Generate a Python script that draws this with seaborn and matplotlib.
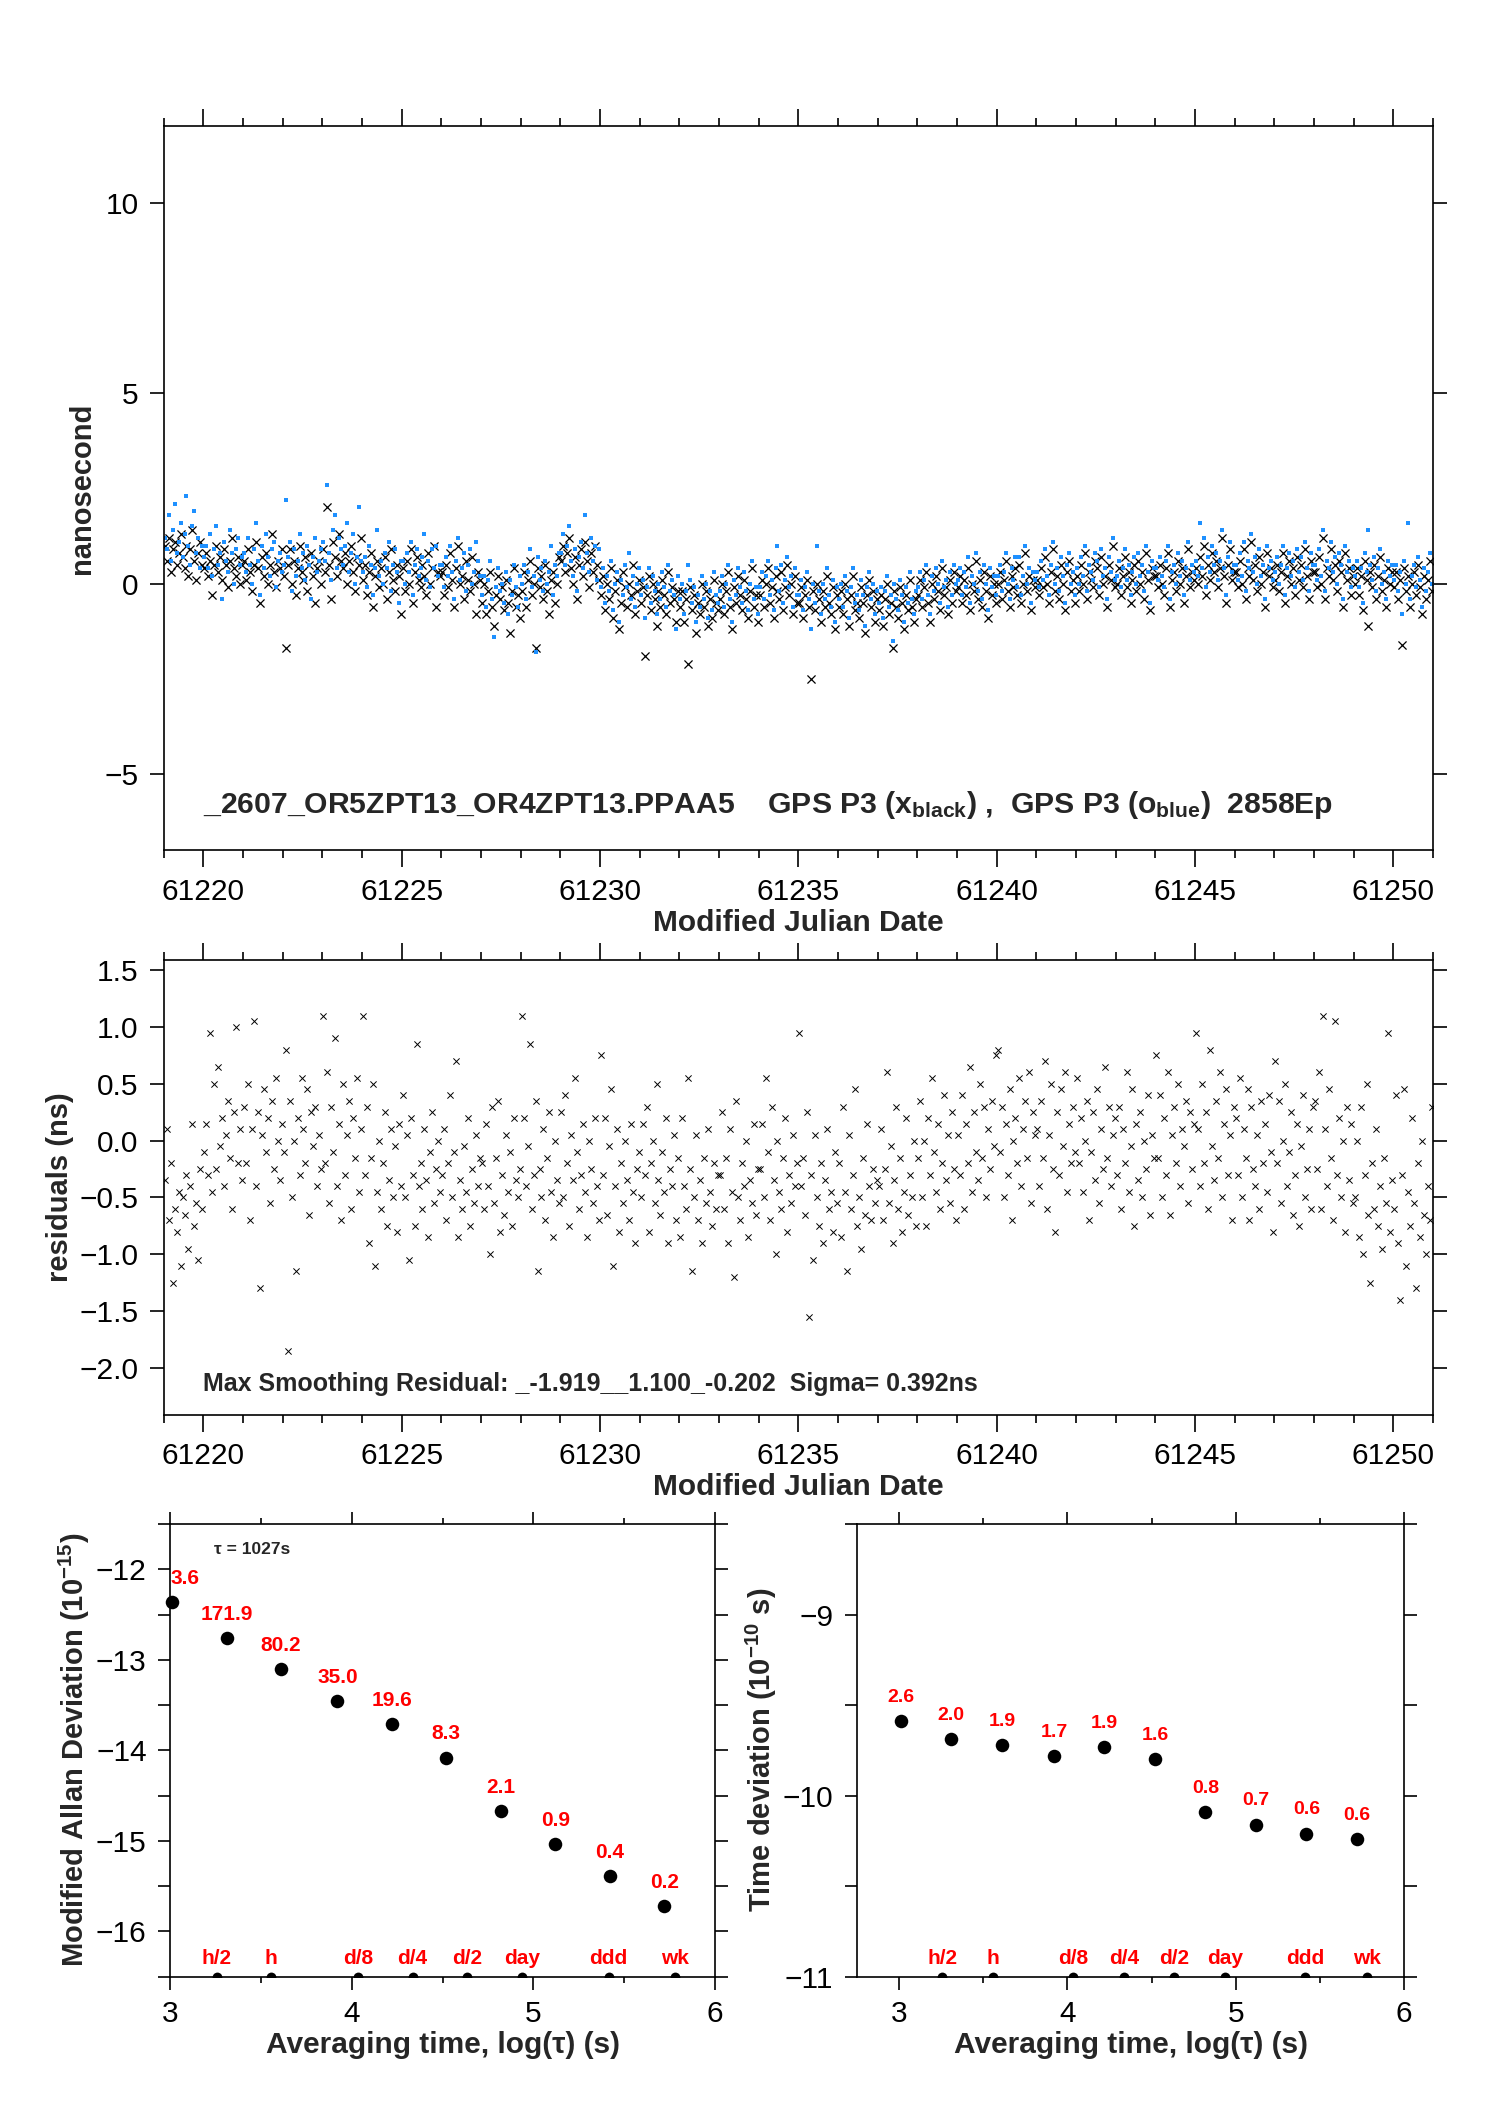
import numpy as np
import matplotlib
matplotlib.use("Agg")
import matplotlib.pyplot as plt
import seaborn as sns
from matplotlib.ticker import MultipleLocator

# time span of the run (MJD)
MJD_START = 61219.0
MJD_END = 61251.0

# clock offsets (ns), GPS P3 black x, one row per day
TOP_BLACK = [
    1.0, 0.6, 1.2, 0.3, 0.9, 1.1, 0.5, 0.8, 1.3, 0.7, 0.4, 1.0, 0.2, 0.9, 1.4, 0.6, 0.1, 0.8, 1.1, 0.5,
    0.4, 0.8, 0.2, 0.6, -0.3, 0.5, 1.0, 0.3, 0.7, 0.1, 0.9, 0.5, -0.1, 0.6, 1.2, 0.4, 0.2, 0.7, 0.0, 0.5,
    0.6, 0.1, 0.9, 0.3, -0.2, 0.5, 1.1, 0.4, -0.5, 0.7, 0.2, 0.8, 0.0, 0.5, 1.3, 0.3, -0.1, 0.6, 0.4, 0.9,
    0.2, -1.7, 0.5, 0.9, 0.0, 0.6, -0.3, 0.4, 1.0, 0.3, 0.1, 0.7, -0.2, 0.5, 0.8, 0.2, -0.5, 0.4, 0.6, 0.0,
    0.9, 0.3, 2.0, 0.5, -0.4, 1.1, 0.7, 0.2, 1.3, 0.6, 0.4, 0.8, 0.0, 0.6, 1.0, 0.3, -0.2, 0.7, 0.5, 1.2,
    0.1, 0.5, -0.3, 0.3, 0.8, -0.6, 0.2, 0.6, -0.1, 0.4, 0.0, 0.7, -0.4, 0.3, 0.9, 0.1, -0.2, 0.5, 0.2, -0.8,
    0.4, -0.2, 0.6, 0.0, 0.9, -0.5, 0.3, 0.7, 0.1, -0.1, 0.5, 0.2, -0.3, 0.8, 0.0, 0.4, 1.0, -0.6, 0.3, 0.2,
    0.3, -0.3, 0.5, -0.1, 0.8, 0.1, -0.6, 0.4, 1.0, 0.0, 0.2, -0.4, 0.6, 0.1, -0.2, 0.7, 0.0, -0.8, 0.3, 0.1,
    -0.5, 0.0, -0.8, -0.2, 0.3, -0.6, -1.1, -0.3, 0.2, -0.4, -0.1, -0.7, 0.1, -0.5, -1.3, -0.2, 0.4, -0.6, -0.3, -0.9,
    -0.2, 0.3, -0.6, 0.1, 0.6, -0.3, 0.0, -1.7, 0.4, -0.1, 0.2, -0.4, 0.5, -0.2, -0.8, 0.1, 0.3, -0.5, 0.0, 0.7,
    0.6, 1.0, 0.3, 0.8, 1.2, 0.4, 0.0, 0.7, -0.4, 0.5, 0.9, 0.2, 1.1, 0.6, -0.1, 0.8, 0.3, 1.0, 0.5, 0.1,
    -0.3, 0.2, -0.7, 0.0, -0.4, 0.4, -0.9, -0.2, 0.1, -1.2, -0.5, 0.3, -0.1, -0.6, 0.0, -0.3, 0.5, -0.8, -0.2, 0.1,
    -0.5, -0.1, -1.9, -0.3, 0.2, -0.7, 0.0, -0.4, -1.1, -0.2, -0.6, 0.1, -0.3, -0.8, 0.3, -0.5, -0.1, -0.4, -1.0, -0.2,
    -0.6, -0.2, -1.0, -0.4, -2.1, -0.1, -0.7, -0.3, -1.3, -0.5, -0.8, 0.0, -0.6, -0.2, -1.1, -0.4, -0.9, 0.1, -0.5, -0.7,
    -0.4, 0.0, -0.8, -0.2, 0.3, -0.6, -1.2, -0.1, -0.5, 0.2, -0.3, -0.7, 0.1, -0.4, -0.9, -0.2, 0.4, -0.6, -0.3, -1.0,
    -0.3, 0.1, -0.6, 0.0, 0.4, -0.5, -0.1, -0.9, 0.2, -0.2, -0.4, 0.3, -0.7, -0.1, 0.5, -0.3, 0.0, -0.8, 0.2, -0.5,
    -0.5, -0.1, -0.9, -0.3, 0.1, -0.6, -2.5, -0.2, -0.7, 0.0, -0.4, -1.0, -0.2, -0.6, 0.2, -0.5, -0.8, -0.1, -1.2, -0.3,
    -0.6, -0.2, -0.8, 0.0, -0.4, -1.1, -0.3, 0.2, -0.7, -0.5, -0.9, -0.1, -0.5, -1.3, -0.3, 0.1, -0.6, -0.2, -1.0, -0.4,
    -0.7, -0.3, -1.1, -0.4, 0.0, -0.8, -0.5, -1.7, -0.2, -0.6, -0.9, -0.1, -0.5, -1.2, -0.3, -0.7, 0.1, -0.6, -1.0, -0.4,
    -0.3, 0.1, -0.6, -0.1, 0.3, -0.5, -1.0, 0.0, -0.4, 0.2, -0.2, -0.7, 0.4, -0.3, -0.1, -0.8, 0.1, -0.5, 0.3, -0.2,
    -0.1, 0.2, -0.5, 0.1, -0.3, 0.4, -0.7, 0.0, -0.2, 0.6, -0.4, 0.1, -0.6, 0.3, -0.2, -0.9, 0.2, -0.3, 0.0, -0.5,
    0.0, 0.3, -0.4, 0.1, 0.6, -0.2, -0.6, 0.2, -0.1, 0.4, -0.3, 0.5, -0.5, 0.0, 0.8, -0.2, 0.2, -0.7, 0.1, -0.1,
    0.1, -0.3, 0.4, -0.1, 0.7, 0.0, -0.5, 0.3, 0.9, -0.2, 0.2, -0.4, 0.5, 0.0, -0.7, 0.3, 0.6, -0.2, 0.1, -0.5,
    0.2, -0.2, 0.5, 0.0, 0.8, -0.4, 0.3, 0.1, -0.1, 0.6, 0.4, -0.3, 0.7, 0.0, 0.2, -0.6, 0.5, 0.1, 1.0, -0.1,
    0.0, 0.4, -0.3, 0.2, 0.7, -0.1, 0.3, -0.5, 0.1, 0.5, -0.2, 0.6, 0.0, 0.3, -0.4, 0.8, 0.1, -0.7, 0.4, 0.2,
    0.2, -0.1, 0.5, 0.0, -0.3, 0.4, 0.8, -0.6, 0.1, 0.3, -0.2, 0.6, 0.0, 0.4, -0.5, 0.2, 0.9, -0.1, 0.3, 0.1,
    0.4, 0.0, 0.7, 0.2, 1.0, -0.3, 0.5, 0.1, 0.8, 0.3, 0.6, -0.1, 0.4, 1.2, 0.2, -0.5, 0.5, 0.9, 0.1, 0.3,
    0.3, -0.1, 0.6, 0.0, 0.9, -0.4, 0.4, 0.2, 1.1, 0.1, 0.5, -0.2, 0.7, 0.0, 0.3, -0.6, 0.8, 0.2, 0.4, -0.1,
    0.1, 0.5, -0.2, 0.3, 0.8, -0.5, 0.2, 0.6, 0.0, 0.4, -0.3, 0.7, 0.1, 0.5, -0.1, 0.9, 0.2, -0.4, 0.6, 0.3,
    0.3, -0.1, 0.7, 0.0, 1.2, -0.4, 0.4, 0.2, 0.9, 0.1, 0.5, -0.2, 0.6, 0.3, -0.6, 0.8, 0.1, 0.4, -0.3, 0.2,
    0.0, 0.4, -0.3, 0.2, -0.7, 0.6, 0.1, -1.1, 0.3, -0.1, 0.5, -0.4, 0.2, 0.7, -0.2, 0.1, -0.6, 0.4, 0.0, 0.3,
    -0.1, 0.3, -0.4, 0.1, -1.6, 0.4, -0.2, 0.2, -0.6, 0.0, 0.3, -0.3, 0.5, -0.1, -0.8, 0.2, -0.4, 0.1, 0.6, -0.2,
]

# clock offsets (ns), GPS P3 blue dots
TOP_BLUE = [
    1.2, 0.9, 1.8, 0.6, 1.4, 2.1, 0.8, 1.1, 1.6, 0.7, 1.3, 2.3, 1.0, 0.5, 1.5, 1.9, 0.8, 1.2, 0.4, 1.0,
    0.7, 1.0, 0.4, 1.3, 0.2, 0.9, 1.5, 0.5, 0.8, -0.4, 1.1, 0.6, 0.3, 1.4, 0.8, 0.0, 0.9, 1.2, 0.5, 0.7,
    0.8, 0.3, 1.2, 0.5, 0.0, 0.9, 1.6, 0.6, -0.3, 1.0, 0.4, 1.3, 0.7, 0.2, 0.9, 1.1, -0.1, 0.6, 0.8, 0.3,
    0.5, 2.2, 0.7, 1.1, -0.2, 0.9, 0.2, 0.6, 1.3, 0.4, 0.8, 0.1, 1.0, 0.5, -0.4, 0.7, 1.2, 0.3, 0.6, 0.9,
    1.1, 0.6, 2.6, 0.8, 0.1, 1.4, 1.8, 0.4, 1.2, 0.9, 0.5, 1.0, 1.6, 0.3, 0.8, 1.3, 0.0, 0.7, 2.0, 0.6,
    0.3, 0.7, -0.1, 1.0, 0.5, -0.3, 0.4, 1.4, 0.2, 0.6, 0.0, 0.8, 0.4, 1.1, -0.2, 0.5, 0.9, 0.3, -0.5, 0.6,
    0.6, 0.0, 0.8, 0.3, 1.1, -0.3, 0.5, 0.9, 0.2, 0.4, 0.7, 1.3, 0.1, 0.6, -0.1, 0.9, 0.4, 1.0, 0.2, 0.5,
    0.5, -0.1, 0.7, 0.2, 1.0, 0.3, -0.4, 0.6, 1.2, 0.1, 0.4, 0.8, -0.2, 0.5, 0.9, 0.0, 0.3, 1.1, 0.6, 0.2,
    -0.3, 0.2, -0.6, 0.1, 0.6, -0.4, -1.4, -0.1, 0.4, -0.2, 0.0, -0.5, 0.3, -0.8, 0.1, -0.3, 0.5, -0.1, -0.6, 0.2,
    0.0, 0.5, -0.4, 0.3, 0.9, -0.1, 0.2, -1.8, 0.7, 0.1, 0.4, -0.2, 0.6, 0.0, 0.3, 1.0, -0.3, 0.5, 0.2, 0.8,
    0.8, 1.3, 0.5, 1.0, 1.5, 0.6, 0.2, 0.9, -0.2, 0.7, 1.1, 0.4, 1.8, 0.8, 0.3, 1.2, 0.6, 1.0, 0.1, 0.9,
    -0.1, 0.4, -0.5, 0.2, -0.2, 0.6, -0.7, 0.0, 0.3, -1.0, 0.1, -0.3, 0.5, -0.1, 0.8, -0.4, 0.2, -0.6, 0.0, 0.4,
    -0.3, 0.1, -0.9, -0.1, 0.4, -0.5, 0.2, -0.2, -0.8, 0.0, -0.4, 0.3, -0.1, -0.6, 0.5, -0.2, 0.1, -0.3, -1.2, 0.2,
    -0.4, 0.0, -0.8, -0.2, 0.5, 0.1, -0.5, -0.1, -1.0, -0.3, -0.6, 0.2, -0.4, 0.0, -0.9, -0.2, -0.7, 0.3, -0.3, -0.5,
    -0.2, 0.2, -0.6, 0.0, 0.5, -0.4, -1.0, 0.1, -0.3, 0.4, -0.1, -0.5, 0.3, -0.2, -0.7, 0.0, 0.6, -0.4, -0.1, -0.8,
    -0.1, 0.3, -0.4, 0.2, 0.6, -0.3, 0.1, -0.7, 0.4, 1.0, -0.2, 0.5, -0.5, 0.1, 0.7, -0.1, 0.2, -0.6, 0.4, -0.3,
    -0.3, 0.1, -0.7, -0.1, 0.3, -0.4, -1.2, 0.0, -0.5, 1.0, -0.2, -0.8, 0.0, -0.4, 0.4, -0.3, -0.6, 0.1, -1.0, -0.1,
    -0.4, 0.0, -0.6, 0.2, -0.2, -0.9, -0.1, 0.4, -0.5, -0.3, -0.7, 0.1, -0.3, -1.1, -0.1, 0.3, -0.4, 0.0, -0.8, -0.2,
    -0.5, -0.1, -0.9, -0.2, 0.2, -0.6, -0.3, -1.5, 0.0, -0.4, -0.7, 0.1, -0.3, -1.0, -0.1, -0.5, 0.3, -0.4, -0.8, -0.2,
    -0.1, 0.3, -0.4, 0.1, 0.5, -0.3, -0.8, 0.2, -0.2, 0.4, 0.0, -0.5, 0.6, -0.1, 0.1, -0.6, 0.3, -0.3, 0.5, 0.0,
    0.1, 0.4, -0.3, 0.3, -0.1, 0.7, -0.5, 0.2, 0.0, 0.8, -0.2, 0.3, -0.4, 0.5, 0.0, -0.7, 0.4, -0.1, 0.2, -0.3,
    0.2, 0.5, -0.2, 0.3, 0.8, 0.0, -0.4, 0.4, 0.1, 0.7, -0.1, 0.7, -0.3, 0.2, 1.0, 0.0, 0.4, -0.5, 0.3, 0.1,
    0.3, -0.1, 0.6, 0.1, 0.9, 0.2, -0.3, 0.5, 1.1, 0.0, 0.4, -0.2, 0.7, 0.2, -0.5, 0.5, 0.8, 0.0, 0.3, -0.3,
    0.4, 0.0, 0.7, 0.2, 1.0, -0.2, 0.5, 0.3, 0.1, 0.8, 0.6, -0.1, 0.9, 0.2, 0.4, -0.4, 0.7, 0.3, 1.2, 0.1,
    0.2, 0.6, -0.1, 0.4, 0.9, 0.1, 0.5, -0.3, 0.3, 0.7, 0.0, 0.8, 0.2, 0.5, -0.2, 1.0, 0.3, -0.5, 0.6, 0.4,
    0.4, 0.1, 0.7, 0.2, -0.1, 0.6, 1.0, -0.4, 0.3, 0.5, 0.0, 0.8, 0.2, 0.6, -0.3, 0.4, 1.1, 0.1, 0.5, 0.3,
    0.6, 0.2, 1.6, 0.4, 1.2, -0.1, 0.7, 0.3, 1.0, 0.5, 0.8, 0.1, 0.6, 1.4, 0.4, -0.3, 0.7, 1.1, 0.3, 0.5,
    0.5, 0.1, 0.8, 0.2, 1.1, -0.2, 0.6, 0.4, 1.3, 0.3, 0.7, 0.0, 0.9, 0.2, 0.5, -0.4, 1.0, 0.4, 0.6, 0.1,
    0.3, 0.7, 0.0, 0.5, 1.0, -0.3, 0.4, 0.8, 0.2, 0.6, -0.1, 0.9, 0.3, 0.7, 0.1, 1.1, 0.4, -0.2, 0.8, 0.5,
    0.5, 0.1, 0.9, 0.2, 1.4, -0.2, 0.6, 0.4, 1.1, 0.3, 0.7, 0.0, 0.8, 0.5, -0.4, 1.0, 0.3, 0.6, -0.1, 0.4,
    0.2, 0.6, -0.1, 0.4, -0.5, 0.8, 0.3, 1.4, 0.5, 0.1, 0.7, -0.2, 0.4, 0.9, 0.0, 0.3, -0.4, 0.6, 0.2, 0.5,
    0.1, 0.5, -0.2, 0.3, -0.8, 0.6, 0.0, 1.6, -0.4, 0.2, 0.5, -0.1, 0.7, 0.1, -0.6, 0.4, -0.2, 0.3, 0.8, 0.0,
]

# smoothing residuals (ns)
RESID = [
    -0.35, 0.10, -0.70, -0.20, -1.25, -0.60, -0.80, -0.45, -1.10, -0.50, -0.65, -0.30, -0.95, -0.40, 0.15, -0.75, -0.55, -1.05, -0.25, -0.60,
    -0.10, 0.15, -0.30, 0.95, -0.45, 0.50, -0.25, 0.65, -0.05, 0.20, -0.40, 0.05, 0.35, -0.15, -0.60, 0.25, 1.00, -0.20, 0.10, -0.35,
    0.30, -0.20, 0.50, -0.70, 0.10, 1.05, -0.40, 0.25, -1.30, 0.05, 0.45, -0.10, 0.20, -0.55, 0.35, -0.25, 0.55, 0.00, -0.35, 0.15,
    -0.10, 0.80, -1.85, 0.35, -0.50, 0.00, -1.15, 0.20, -0.30, 0.55, 0.10, -0.20, 0.45, -0.65, 0.25, -0.05, 0.30, -0.40, 0.05, -0.25,
    1.10, -0.20, 0.60, -0.55, 0.30, -0.10, 0.90, -0.40, 0.15, -0.70, 0.50, -0.30, 0.05, 0.35, -0.60, 0.20, -0.15, 0.55, -0.45, 0.10,
    1.10, -0.30, 0.30, -0.90, -0.15, 0.50, -1.10, -0.45, 0.00, -0.60, -0.20, 0.25, -0.75, -0.35, 0.10, -0.50, -0.05, -0.80, 0.15, -0.40,
    0.40, -0.50, 0.05, -1.05, 0.20, -0.30, -0.75, 0.85, -0.40, -0.20, -0.60, 0.10, -0.35, -0.85, -0.10, 0.25, -0.55, -0.25, 0.00, -0.45,
    -0.30, 0.10, -0.70, -0.20, 0.40, -0.50, -0.10, 0.70, -0.85, -0.35, -0.60, -0.05, -0.45, 0.20, -0.75, -0.25, -0.55, 0.05, -0.40, -0.15,
    -0.20, -0.60, 0.15, -0.40, -1.00, 0.30, -0.55, -0.15, 0.35, -0.80, -0.30, -0.65, 0.05, -0.45, -0.10, -0.75, 0.20, -0.35, -0.50, -0.25,
    1.10, 0.20, -0.40, -0.05, 0.85, -0.60, -0.30, 0.35, -1.15, -0.25, -0.50, 0.10, -0.70, -0.15, 0.25, -0.45, -0.85, 0.00, -0.35, -0.55,
    0.25, -0.50, 0.40, -0.20, -0.75, 0.05, -0.35, 0.55, -0.10, -0.60, -0.30, 0.15, -0.45, -0.85, 0.00, -0.25, -0.55, 0.20, -0.40, -0.70,
    0.75, -0.30, 0.20, -0.65, -0.05, 0.45, -1.10, -0.40, 0.10, -0.80, -0.20, -0.55, 0.00, -0.35, -0.70, 0.15, -0.45, -0.90, -0.25, -0.10,
    -0.50, 0.15, -0.30, 0.30, -0.80, -0.20, 0.00, -0.55, 0.50, -0.35, -0.65, -0.10, -0.45, 0.20, -0.90, -0.25, -0.40, 0.05, -0.70, -0.15,
    -0.85, 0.20, -0.40, -0.60, 0.55, -0.25, -1.15, -0.50, 0.05, -0.70, -0.35, -0.90, -0.15, -0.55, 0.10, -0.45, -0.75, -0.20, -0.60, -0.30,
    -0.30, 0.25, -0.60, -0.15, -0.90, 0.10, -0.45, -1.20, 0.35, -0.50, -0.70, -0.20, -0.40, 0.00, -0.85, -0.35, -0.55, 0.15, -0.65, -0.25,
    -0.25, 0.15, -0.50, 0.55, -0.10, -0.70, 0.30, -0.35, -1.00, 0.00, -0.45, -0.60, -0.15, 0.20, -0.80, -0.30, -0.55, 0.05, -0.40, -0.20,
    0.95, -0.40, -0.15, -0.65, 0.25, -1.55, -0.30, -1.05, 0.05, -0.50, -0.75, -0.20, -0.90, -0.35, 0.10, -0.60, -0.45, -0.80, -0.10, -0.55,
    -0.20, -0.85, 0.30, -0.45, -1.15, 0.05, -0.60, -0.30, 0.45, -0.75, -0.50, -0.95, -0.15, -0.65, 0.15, -0.40, -0.70, -0.25, -0.55, -0.35,
    -0.40, 0.10, -0.70, -0.25, 0.60, -0.55, -0.05, -0.90, -0.35, 0.30, -0.60, -0.15, -0.80, -0.45, 0.20, -0.65, -0.30, -0.50, 0.00, -0.75,
    -0.15, 0.35, -0.50, 0.00, -0.75, 0.20, -0.30, 0.55, -0.10, -0.45, 0.15, -0.60, -0.20, 0.40, -0.35, 0.05, -0.55, 0.25, -0.25, -0.70,
    0.05, -0.30, 0.40, -0.60, 0.15, -0.20, 0.65, -0.45, 0.25, -0.10, -0.35, 0.50, -0.15, 0.30, -0.50, 0.10, -0.25, 0.35, -0.05, 0.75,
    0.80, -0.10, 0.30, -0.50, 0.15, -0.30, 0.45, -0.70, 0.00, 0.20, -0.20, 0.55, -0.40, 0.10, 0.35, -0.15, 0.60, -0.55, 0.25, 0.05,
    0.10, -0.40, 0.35, -0.15, 0.70, -0.60, 0.05, 0.50, -0.25, -0.80, 0.25, -0.30, 0.45, -0.05, 0.60, -0.45, 0.15, -0.20, 0.30, -0.10,
    0.55, -0.20, 0.20, -0.45, 0.00, 0.35, -0.70, -0.10, 0.25, -0.35, 0.45, -0.55, 0.10, -0.25, 0.65, -0.15, 0.30, -0.40, 0.05, 0.20,
    -0.30, 0.30, -0.60, 0.10, -0.20, 0.60, -0.45, -0.05, 0.45, -0.75, 0.15, -0.35, 0.25, -0.50, 0.00, -0.25, 0.40, -0.65, 0.05, -0.15,
    0.75, -0.15, 0.40, -0.50, 0.20, -0.30, 0.60, -0.65, 0.05, 0.30, -0.20, 0.50, -0.40, 0.10, -0.05, 0.35, -0.55, 0.25, -0.25, 0.15,
    0.95, 0.10, -0.40, 0.50, -0.20, 0.25, -0.60, 0.80, -0.05, -0.35, 0.35, -0.15, 0.60, -0.50, 0.15, 0.45, -0.30, 0.05, -0.70, 0.30,
    0.20, -0.30, 0.55, -0.50, 0.10, -0.15, 0.45, -0.70, 0.30, -0.25, -0.40, 0.05, -0.60, 0.35, -0.20, 0.15, -0.45, 0.40, -0.10, -0.80,
    0.70, -0.20, 0.35, -0.55, 0.00, 0.50, -0.40, -0.10, 0.25, -0.65, -0.30, 0.15, -0.75, -0.05, 0.40, -0.50, -0.25, 0.10, -0.60, 0.30,
    0.35, -0.25, 0.60, -0.60, 1.10, 0.10, -0.40, 0.45, -0.15, -0.70, 1.05, -0.30, 0.20, -0.50, 0.00, -0.80, 0.30, -0.35, 0.15, -0.55,
    -0.50, 0.00, -0.85, 0.30, -1.00, -0.30, 0.50, -0.65, -1.25, -0.20, -0.60, 0.10, -0.75, -0.40, -0.95, -0.15, -0.55, 0.95, -0.80, -0.35,
    -0.60, 0.40, -0.90, -1.40, -0.30, 0.45, -1.10, -0.45, -0.75, 0.20, -0.55, -1.30, -0.20, -0.85, 0.00, -0.65, -1.00, -0.40, -0.70, 0.30,
]

# stability results: log10(tau) and values, with red annotations
LOG_TAU = [3.01, 3.31, 3.61, 3.92, 4.22, 4.52, 4.82, 5.12, 5.42, 5.72]
MDEV = [-12.36, -12.76, -13.10, -13.46, -13.71, -14.08, -14.67, -15.04, -15.39, -15.72]
MDEV_LABELS = ["3.6", "171.9", "80.2", "35.0", "19.6", "8.3", "2.1", "0.9", "0.4", "0.2"]
TDEV = [-9.59, -9.69, -9.72, -9.78, -9.73, -9.80, -10.09, -10.16, -10.21, -10.24]
TDEV_LABELS = ["2.6", "2.0", "1.9", "1.7", "1.9", "1.6", "0.8", "0.7", "0.6", "0.6"]

# reference averaging times
MARK_NAMES = ["h/2", "h", "d/8", "d/4", "d/2", "day", "ddd", "wk"]
MARK_SECONDS = [1800, 3600, 10800, 21600, 43200, 86400, 259200, 604800]

TOP_TEXT = (r"_2607_OR5ZPT13_OR4ZPT13.PPAA5    GPS P3 (x$_{\mathbf{black}}$) ,  "
            r"GPS P3 (o$_{\mathbf{blue}}$)  2858Ep")
RES_TEXT = "Max Smoothing Residual: _-1.919__1.100_-0.202  Sigma= 0.392ns"

sns.set_theme(style="ticks")
plt.rcParams["font.family"] = ["Liberation Sans", "DejaVu Sans"]
plt.rcParams["mathtext.fontset"] = "custom"
plt.rcParams["mathtext.rm"] = "Liberation Sans"
plt.rcParams["mathtext.bf"] = "Liberation Sans:bold"
plt.rcParams["mathtext.it"] = "Liberation Sans:italic"
plt.rcParams["axes.linewidth"] = 1.2

BLUE = "#1e90ff"
RED = "#ff0000"


def style_axis(ax, major_len=12, minor_len=6, labelsize=21.5):
    for side in ["top", "right", "bottom", "left"]:
        ax.spines[side].set_visible(True)
        ax.spines[side].set_color("black")
    ax.tick_params(which="both", direction="out", top=True, right=True,
                   width=1.2, colors="black", labelsize=labelsize)
    ax.tick_params(which="major", length=major_len, pad=8)
    ax.tick_params(which="minor", length=minor_len)
    ax.set_facecolor("white")


def mjd_axis(ax):
    ax.set_xlim(MJD_START, MJD_END)
    ax.xaxis.set_major_locator(MultipleLocator(5))
    ax.xaxis.set_minor_locator(MultipleLocator(1))
    ax.set_xlabel("Modified Julian Date", fontsize=21.5, fontweight="bold", labelpad=2)
    style_axis(ax)
    ax.tick_params(axis="y", which="minor", left=False, right=False)
    ax.tick_params(axis="y", which="major", length=10)


fig = plt.figure(figsize=(14.88, 21.05), dpi=100)
fig.patch.set_facecolor("white")

n = len(TOP_BLACK)
epochs = MJD_START + (np.arange(n) + 0.5) * (MJD_END - MJD_START) / n

# top panel: clock comparison
ax1 = fig.add_axes([0.110, 0.596, 0.853, 0.344])
sns.scatterplot(x=epochs, y=TOP_BLACK, ax=ax1, marker="x", color="black",
                s=34, linewidth=0.9, legend=False)
sns.scatterplot(x=epochs, y=TOP_BLUE, ax=ax1, marker="s", color=BLUE,
                s=11, linewidth=0, legend=False)
ax1.set_ylim(-7, 12)
ax1.yaxis.set_major_locator(MultipleLocator(5))
ax1.set_ylabel("nanosecond", fontsize=21, fontweight="bold", labelpad=6)
mjd_axis(ax1)
ax1.text(61220.0, -5.8, TOP_TEXT, fontsize=21.7, fontweight="bold", va="center")

# middle panel: residuals
ax2 = fig.add_axes([0.110, 0.328, 0.853, 0.216])
sns.scatterplot(x=epochs, y=RESID, ax=ax2, marker="x", color="black",
                s=20, linewidth=0.7, legend=False)
ax2.set_ylim(-2.41, 1.59)
ax2.yaxis.set_major_locator(MultipleLocator(0.5))
ax2.set_ylabel("residuals (ns)", fontsize=21, fontweight="bold", labelpad=4)
mjd_axis(ax2)
ax2.text(61220.0, -2.14, RES_TEXT, fontsize=18, fontweight="bold", va="center")

mark_x = np.log10(MARK_SECONDS)


def stability_axis(ax, values, labels, ylim, ylabel, label_size, first_left):
    sns.scatterplot(x=LOG_TAU, y=values, ax=ax, color="black", s=95,
                    linewidth=0, legend=False, clip_on=False, zorder=3)
    for i, (xv, yv, lab) in enumerate(zip(LOG_TAU, values, labels)):
        ha = "left" if (first_left and i == 0) else "center"
        xo = ax.get_xlim()[0] if ha == "left" else xv
        ax.annotate(lab, (xo, yv), xytext=(0, 17), textcoords="offset points",
                    ha=ha, va="center", color=RED, fontsize=label_size,
                    fontweight="bold")
    ax.set_ylim(*ylim)
    sns.scatterplot(x=mark_x, y=[ylim[0]] * len(mark_x), ax=ax, color="black",
                    s=50, linewidth=0, legend=False, zorder=3)
    for xv, lab in zip(mark_x, MARK_NAMES):
        ax.annotate(lab, (xv, ylim[0]), xytext=(0, 13), textcoords="offset points",
                    ha="center", va="center", color=RED, fontsize=15,
                    fontweight="bold")
    ax.xaxis.set_major_locator(MultipleLocator(1))
    ax.xaxis.set_minor_locator(MultipleLocator(0.5))
    ax.yaxis.set_major_locator(MultipleLocator(1))
    ax.yaxis.set_minor_locator(MultipleLocator(0.5))
    style_axis(ax, major_len=9, minor_len=4.5)
    ax.tick_params(axis="y", which="both", length=9)
    ax.set_xlabel("Averaging time, log(τ) (s)", fontsize=21.5, fontweight="bold",
                  labelpad=2)
    ax.set_ylabel(ylabel, fontsize=21, fontweight="bold", labelpad=3)


# bottom left: modified Allan deviation
ax3 = fig.add_axes([0.1145, 0.061, 0.366, 0.215])
ax3.set_xlim(3.0, 6.0)
stability_axis(ax3, MDEV, MDEV_LABELS, (-16.5, -11.5),
               r"Modified Allan Deviation (10$^{\mathbf{-15}}$)", 15, True)
ax3.text(3.24, -11.78, "τ = 1027s", fontsize=12.5, fontweight="bold", va="center")

# bottom right: time deviation
ax4 = fig.add_axes([0.576, 0.061, 0.3676, 0.215])
ax4.set_xlim(2.75, 6.0)
stability_axis(ax4, TDEV, TDEV_LABELS, (-11.0, -8.5),
               r"Time deviation (10$^{\mathbf{-10}}$ s)", 14, False)

fig.savefig("out.png", dpi=100, facecolor="white")
